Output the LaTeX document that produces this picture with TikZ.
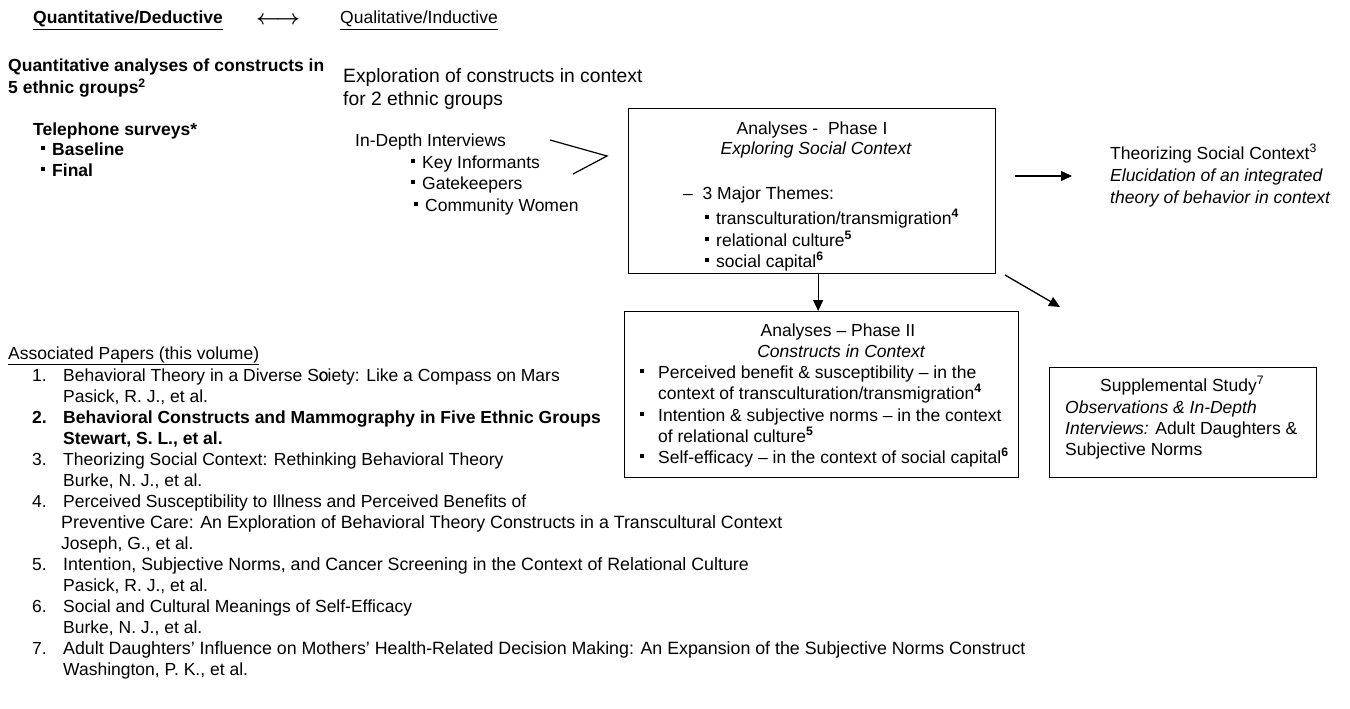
\documentclass[tikz,border=0pt]{standalone}
\usepackage{fontspec}
\setmainfont{Liberation Sans}
\usetikzlibrary{arrows.meta}

\newcommand{\sqbul}{\rule[0.3em]{0.2em}{0.2em}\hspace{7.5pt}}
\newcommand{\supb}[1]{\textsuperscript{\bfseries #1}}

\tikzset{
  lbl/.style={anchor=base west, inner sep=0pt, font=\fontsize{17.5}{21}\selectfont},
  mid/.style={lbl, anchor=base},
  wide/.style={lbl, font=\fontsize{17.8}{21}\selectfont},
  frame/.style={draw, line width=1.3pt, inner sep=0pt, anchor=north west},
  arr/.style={-{Triangle[length=11pt,width=10pt]}, line width=1.3pt},
}

\begin{document}
\begin{tikzpicture}[x=1pt, y=-1pt]
\useasboundingbox (0,0) rectangle (1350,709);
%\draw [help lines, step=50] (0,0) grid (1350,709);

% top row
\node (qd) [lbl] at (33,24) {\bfseries\underline{Quantitative/Deductive}};
\node (lr) [font={\fontsize{22.5}{22}\selectfont\mathversion{bold}}, inner sep=0pt] at (278,20) {$\longleftrightarrow$};
\node (qi) [lbl] at (340,24) {\underline{Qualitative/Inductive}};

% quantitative side
\node (qa1) [lbl] at (8,71) {\bfseries Quantitative analyses of constructs in};
\node (qa2) [lbl] at (8,94) {\bfseries 5 ethnic groups\textsuperscript{2}};
\node (tel) [lbl] at (33,135) {\bfseries Telephone surveys*};
\node (tel1) [lbl] at (41,155) {\bfseries\sqbul Baseline};
\node (tel2) [lbl] at (41,176) {\bfseries\sqbul Final};

% qualitative side
\node (ex1) [lbl, font=\fontsize{19.3}{22}\selectfont] at (343,83) {Exploration of constructs in context};
\node (ex2) [lbl, font=\fontsize{19.3}{22}\selectfont] at (343,105) {for 2 ethnic groups};
\node (idi) [lbl] at (355,146) {In-Depth Interviews};
\node (idi1) [lbl] at (411,168) {\sqbul Key Informants};
\node (idi2) [lbl] at (411,189) {\sqbul Gatekeepers};
\node (idi3) [lbl] at (414,211) {\sqbul Community Women};
\coordinate (gtA) at (550,140);
\coordinate (gtB) at (607,156);
\coordinate (gtC) at (573,174);
\draw [line width=1.2pt] (gtA) -- (gtB) -- (gtC);

% phase I
\node (phaseI) [frame, minimum width=367pt, minimum height=165pt] at (628,108) {};
\node (p1a) [mid] at (812,134) {Analyses -\ \ Phase I};
\node (p1b) [mid] at (816,154) {\itshape Exploring Social Context};
\node (p1c) [lbl] at (683,199) {--\ \ 3 Major Themes:};
\node (p1d) [lbl] at (705,224) {\sqbul transculturation/transmigration\supb{4}};
\node (p1e) [lbl] at (705,246) {\sqbul relational culture\supb{5}};
\node (p1f) [lbl] at (705,267) {\sqbul social capital\supb{6}};

% theorizing
\node (th1) [lbl] at (1110,159) {Theorizing Social Context\textsuperscript{3}};
\node (th2) [lbl] at (1110,181) {\itshape Elucidation of an integrated};
\node (th3) [lbl] at (1110,203) {\itshape theory of behavior in context};
\coordinate (thS) at (1015,176);
\coordinate (thE) at (1072,176);
\draw [arr] (thS) -- (thE);

% phase II
\node (phaseII) [frame, minimum width=394pt, minimum height=166pt] at (624,311) {};
\draw [arr] ([xshift=6pt]phaseI.south) -- ([xshift=6pt]phaseI.south |- phaseII.north);
\node (p2a) [mid] at (838,336) {Analyses -- Phase II};
\node (p2b) [mid] at (841,357) {\itshape Constructs in Context};
\node (p2c) [lbl] at (640,378) {\sqbul\hspace{7pt}Perceived benefit \& susceptibility -- in the};
\node (p2d) [lbl] at (658,399) {context of transculturation/transmigration\supb{4}};
\node (p2e) [lbl] at (640,421) {\sqbul\hspace{7pt}Intention \& subjective norms -- in the context};
\node (p2f) [lbl] at (658,442) {of relational culture\supb{5}};
\node (p2g) [lbl] at (640,463) {\sqbul\hspace{7pt}Self-efficacy -- in the context of social capital\supb{6}};

% supplemental study
\coordinate (dgS) at (1005,275);
\coordinate (dgE) at (1060,307);
\draw [arr] (dgS) -- (dgE);
\node (supp) [frame, minimum width=267pt, minimum height=110pt] at (1049,367) {};
\node (s1) [lbl] at (1100,391) {Supplemental Study\textsuperscript{7}};
\node (s2) [lbl] at (1065,413) {\itshape Observations \& In-Depth};
\node (s3) [lbl] at (1065,434) {{\itshape Interviews:} Adult Daughters \&};
\node (s4) [lbl] at (1065,455) {Subjective Norms};

% associated papers
\node (ap) [lbl] at (8,359) {\underline{Associated Papers (this volume)}};
\node (n1) [lbl] at (32,381) {1.};
\node (a1) [lbl] at (63,381) {Behavioral Theory in a Diverse S\makebox[0pt][l]{o}ciety: Like a Compass on Mars};
\node (b1) [lbl] at (63,402) {Pasick, R. J., et al.};
\node (n2) [lbl] at (32,423) {\bfseries 2.};
\node (a2) [lbl] at (63,423) {\bfseries Behavioral Constructs and Mammography in Five Ethnic Groups};
\node (b2) [lbl] at (63,444) {\bfseries Stewart, S. L., et al.};
\node (n3) [lbl] at (32,465) {3.};
\node (a3) [lbl] at (63,465) {Theorizing Social Context: Rethinking Behavioral Theory};
\node (b3) [lbl] at (63,486) {Burke, N. J., et al.};
\node (n4) [lbl] at (32,507) {4.};
\node (a4) [lbl] at (63,507) {Perceived Susceptibility to Illness and Perceived Benefits of};
\node (c4) [wide] at (61,528) {Preventive Care: An Exploration of Behavioral Theory Constructs in a Transcultural Context};
\node (b4) [lbl] at (61,549) {Joseph, G., et al.};
\node (n5) [lbl] at (32,570) {5.};
\node (a5) [wide] at (63,570) {Intention, Subjective Norms, and Cancer Screening in the Context of Relational Culture};
\node (b5) [lbl] at (63,591) {Pasick, R. J., et al.};
\node (n6) [lbl] at (32,612) {6.};
\node (a6) [lbl] at (63,612) {Social and Cultural Meanings of Self-Efficacy};
\node (b6) [lbl] at (63,633) {Burke, N. J., et al.};
\node (n7) [lbl] at (32,654) {7.};
\node (a7) [wide] at (63,654) {Adult Daughters' Influence on Mothers' Health-Related Decision Making: An Expansion of the Subjective Norms Construct};
\node (b7) [lbl] at (63,675) {Washington, P. K., et al.};
\end{tikzpicture}
\end{document}
